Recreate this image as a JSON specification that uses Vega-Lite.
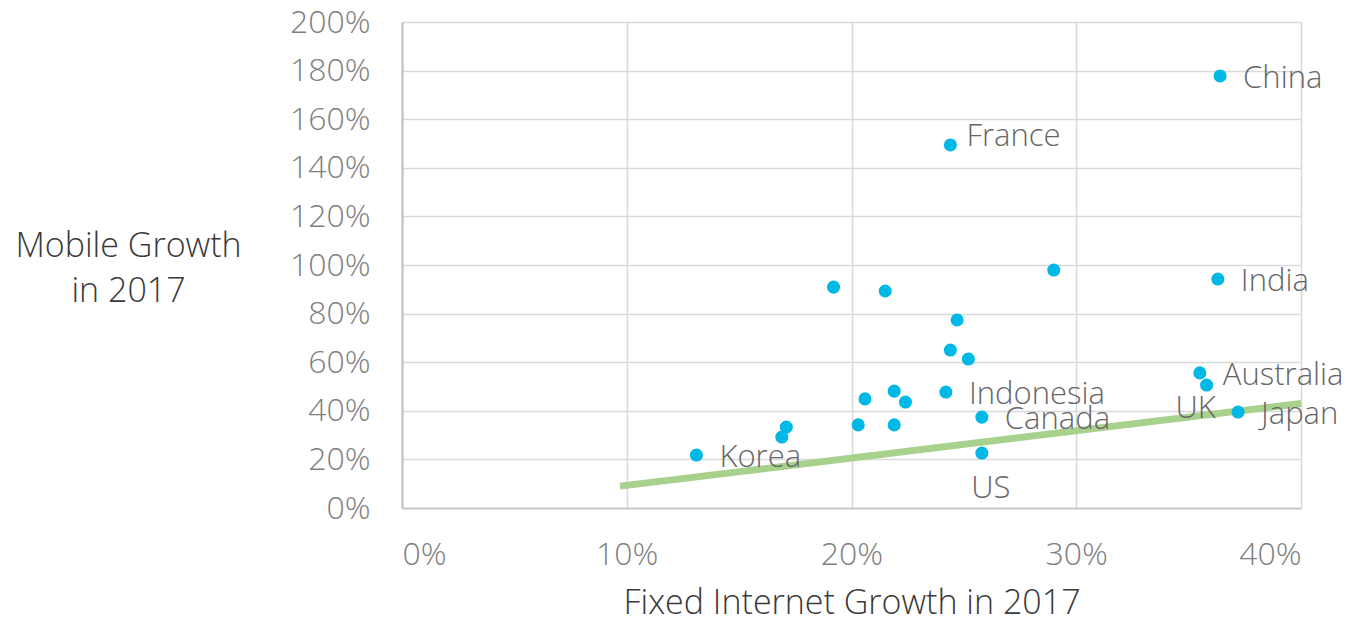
{
  "$schema": "https://vega.github.io/schema/vega-lite/v6.json",
  "autosize": {"type": "none"},
  "width": 899,
  "height": 486,
  "padding": {"left": 402, "top": 22, "right": 52, "bottom": 115},
  "background": "white",
  "config": {
    "font": "Open Sans",
    "view": {"stroke": null},
    "axis": {"gridColor": "#d9d9d9", "gridWidth": 1.5, "ticks": false, "labelFont": "Open Sans", "labelFontWeight": 300, "labelColor": "#808080", "labelFontSize": 32, "titleFont": "Open Sans", "titleFontWeight": 300, "titleColor": "#3a3a3a"}
  },
  "datasets": {
    "pts": [
      {"country": "China", "fixed": 0.364, "mobile": 1.778},
      {"country": "France", "fixed": 0.244, "mobile": 1.494},
      {"country": "", "fixed": 0.290, "mobile": 0.979},
      {"country": "India", "fixed": 0.363, "mobile": 0.942},
      {"country": "", "fixed": 0.192, "mobile": 0.909},
      {"country": "", "fixed": 0.215, "mobile": 0.893},
      {"country": "", "fixed": 0.247, "mobile": 0.774},
      {"country": "", "fixed": 0.244, "mobile": 0.650},
      {"country": "", "fixed": 0.252, "mobile": 0.613},
      {"country": "Australia", "fixed": 0.355, "mobile": 0.556},
      {"country": "UK", "fixed": 0.358, "mobile": 0.506},
      {"country": "", "fixed": 0.219, "mobile": 0.481},
      {"country": "Indonesia", "fixed": 0.242, "mobile": 0.477},
      {"country": "", "fixed": 0.206, "mobile": 0.449},
      {"country": "", "fixed": 0.224, "mobile": 0.436},
      {"country": "Canada", "fixed": 0.258, "mobile": 0.374},
      {"country": "Japan", "fixed": 0.372, "mobile": 0.395},
      {"country": "", "fixed": 0.171, "mobile": 0.333},
      {"country": "", "fixed": 0.169, "mobile": 0.292},
      {"country": "", "fixed": 0.203, "mobile": 0.342},
      {"country": "", "fixed": 0.219, "mobile": 0.342},
      {"country": "Korea", "fixed": 0.131, "mobile": 0.218},
      {"country": "US", "fixed": 0.258, "mobile": 0.226}
    ],
    "trend": [
      {"fixed": 0.097, "mobile": 0.09},
      {"fixed": 0.40, "mobile": 0.43}
    ]
  },
  "encoding": {
    "x": {"field": "fixed", "type": "quantitative", "scale": {"domain": [0, 0.4]},
      "axis": {"format": "%", "values": [0, 0.1, 0.2, 0.3, 0.4], "labelPadding": 31, "domainColor": "#bfbfbf", "domainWidth": 1.5, "title": "Fixed Internet Growth in 2017", "titleFontSize": 34, "titleY": 95, "titleBaseline": "middle", "titlePadding": 0}},
    "y": {"field": "mobile", "type": "quantitative", "scale": {"domain": [0, 2]},
      "axis": {"format": "%", "values": [0, 0.2, 0.4, 0.6, 0.8, 1.0, 1.2, 1.4, 1.6, 1.8, 2.0], "labelPadding": 32, "domainColor": "#bfbfbf", "domainWidth": 2, "title": ["Mobile Growth", "in 2017"], "titleAngle": 0, "titleFontSize": 34, "titleX": -274, "titleY": 224, "titleAlign": "center", "titleBaseline": "middle", "titleLineHeight": 45}}
  },
  "layer": [
    {"data": {"name": "trend"}, "mark": {"type": "line", "color": "#a9d18e", "strokeWidth": 7}},
    {"data": {"name": "pts"}, "mark": {"type": "circle", "color": "#00b8e6", "opacity": 1, "size": 170}},
    {"data": {"name": "pts"}, "transform": [{"filter": "indexof(['China','India','Australia','Japan','Indonesia','Canada','Korea'], datum.country) >= 0"}],
      "mark": {"type": "text", "align": "left", "baseline": "middle", "dx": 23, "dy": 3, "fontSize": 31, "fontWeight": 300, "color": "#666666"},
      "encoding": {"text": {"field": "country"}}},
    {"data": {"name": "pts"}, "transform": [{"filter": "datum.country == 'France'"}],
      "mark": {"type": "text", "align": "left", "baseline": "middle", "dx": 16, "dy": -8, "fontSize": 31, "fontWeight": 300, "color": "#666666"},
      "encoding": {"text": {"field": "country"}}},
    {"data": {"name": "pts"}, "transform": [{"filter": "datum.country == 'UK'"}],
      "mark": {"type": "text", "align": "center", "baseline": "middle", "dx": -11, "dy": 24, "fontSize": 31, "fontWeight": 300, "color": "#666666"},
      "encoding": {"text": {"field": "country"}}},
    {"data": {"name": "pts"}, "transform": [{"filter": "datum.country == 'US'"}],
      "mark": {"type": "text", "align": "center", "baseline": "middle", "dx": 9, "dy": 36, "fontSize": 31, "fontWeight": 300, "color": "#666666"},
      "encoding": {"text": {"field": "country"}}}
  ]
}
